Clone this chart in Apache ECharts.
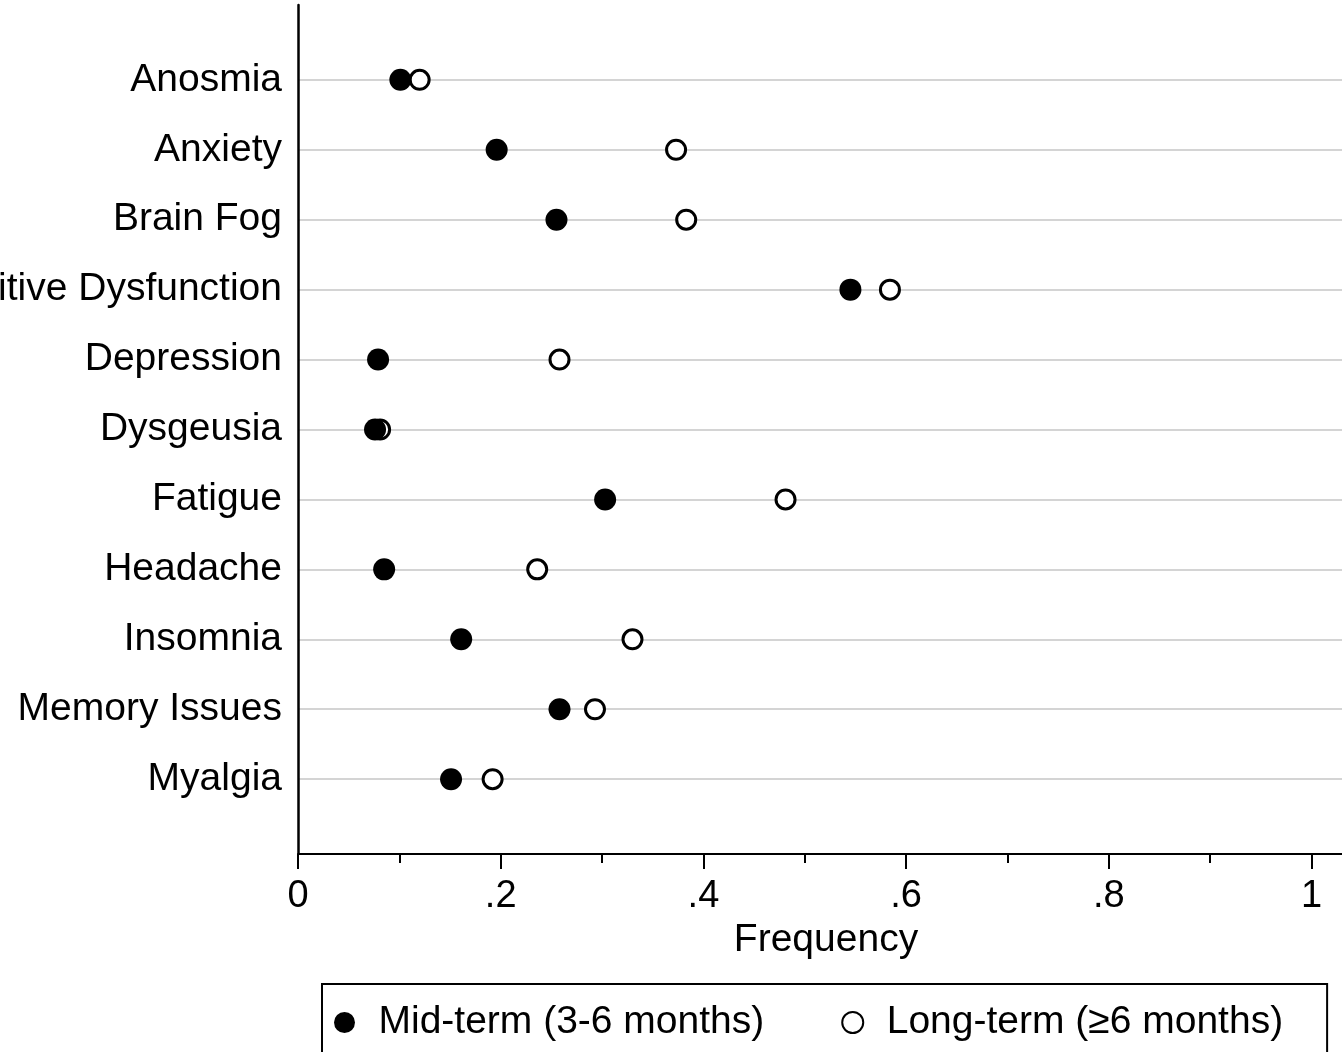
<!DOCTYPE html>
<html>
<head>
<meta charset="utf-8">
<title>Symptom frequency</title>
<script src="https://cdn.jsdelivr.net/npm/echarts@6/dist/echarts.min.js"></script>
<style>
  html, body { margin: 0; padding: 0; background: #fff; }
  #chart { width: 1342px; height: 1052px; }
</style>
</head>
<body>
<div id="chart"></div>
<script>
// symptom categories, top to bottom
var categories = ['Anosmia', 'Anxiety', 'Brain Fog', 'Cognitive Dysfunction', 'Depression',
  'Dysgeusia', 'Fatigue', 'Headache', 'Insomnia', 'Memory Issues', 'Myalgia']
var midTerm = [0.101, 0.196, 0.255, 0.545, 0.079, 0.076, 0.303, 0.085, 0.161, 0.258, 0.151]
var longTerm = [0.120, 0.373, 0.383, 0.584, 0.258, 0.081, 0.481, 0.236, 0.330, 0.293, 0.192]
var majorTicks = [0, 0.2, 0.4, 0.6, 0.8, 1]
var minorTicks = [0.1, 0.3, 0.5, 0.7, 0.9]
var seriesNames = ['Mid-term (3-6 months)', 'Long-term (\u22656 months)']

var font = "'Liberation Sans', Arial, Helvetica, sans-serif"
var catIndex = categories.map(function (c, i) { return i })

function pairs(values) {
  return values.map(function (v, i) { return [v, i] })
}

var option = {
  backgroundColor: '#fff',
  animation: false,
  textStyle: { fontFamily: font, color: '#000' },
  grid: { left: 298, right: 0, top: 5, bottom: 198, containLabel: false, outerBoundsMode: 'none' },
  legend: {
    data: seriesNames,
    left: 322,
    top: 984,
    orient: 'horizontal',
    borderColor: '#000',
    borderWidth: 2,
    padding: [19, 44, 40, 12],
    itemWidth: 24,
    itemHeight: 21,
    itemGap: 77,
    textStyle: { fontSize: 39, color: '#000', fontFamily: font, padding: [4, 0, 0, 17] }
  },
  xAxis: [{
    type: 'value',
    min: 0,
    max: 1.03,
    name: 'Frequency',
    nameLocation: 'middle',
    nameGap: 62,
    nameTextStyle: { fontSize: 39, color: '#000', fontFamily: font, padding: [0, 0, 0, 12] },
    axisLine: { show: true, onZero: false, lineStyle: { color: '#000', width: 2 } },
    axisTick: { show: true, customValues: majorTicks, length: 15, lineStyle: { color: '#000', width: 2 } },
    axisLabel: {
      customValues: majorTicks,
      margin: 24,
      fontSize: 38,
      color: '#000',
      fontFamily: font,
      formatter: function (v) {
        if (v === 0 || v === 1) return String(v)
        return String(v).replace('0.', '.')
      }
    },
    splitLine: { show: false }
  }, {
    type: 'value',
    min: 0,
    max: 1.03,
    position: 'bottom',
    axisLine: { show: false, onZero: false },
    axisTick: { show: true, customValues: minorTicks, length: 9, lineStyle: { color: '#000', width: 2 } },
    axisLabel: { show: false },
    splitLine: { show: false }
  }],
  yAxis: {
    type: 'value',
    inverse: true,
    min: -1.07,
    max: 11.07,
    axisLine: { show: true, onZero: false, lineStyle: { color: '#000', width: 2.5 } },
    axisTick: { show: false, customValues: catIndex },
    axisLabel: {
      customValues: catIndex,
      margin: 16,
      fontSize: 39,
      color: '#000',
      fontFamily: font,
      padding: [6, 0, 0, 0],
      formatter: function (v) { return categories[v] }
    },
    splitLine: { show: true, lineStyle: { color: '#d4d4d4', width: 2 } }
  },
  series: [{
    name: seriesNames[1],
    type: 'scatter',
    symbol: 'circle',
    symbolSize: 19,
    z: 2,
    itemStyle: { color: '#fff', borderColor: '#000', borderWidth: 3, opacity: 1 },
    data: pairs(longTerm)
  }, {
    name: seriesNames[0],
    type: 'scatter',
    symbol: 'circle',
    symbolSize: 22,
    z: 3,
    itemStyle: { color: '#000', opacity: 1 },
    data: pairs(midTerm)
  }]
}

var chart = echarts.init(document.getElementById('chart'))
chart.setOption(option)
</script>
</body>
</html>
